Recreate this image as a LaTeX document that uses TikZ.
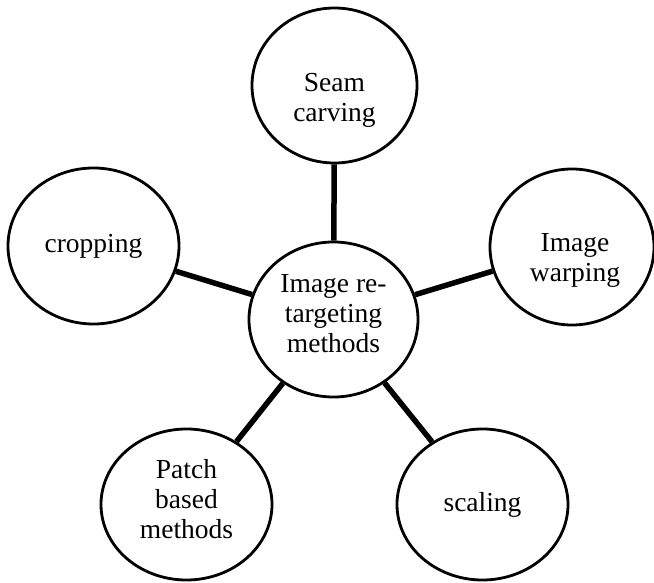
\documentclass[tikz,border=0pt]{standalone}
\usepackage{fontspec}
\setmainfont{Liberation Serif}
\usetikzlibrary{shapes.geometric}
\begin{document}
\begin{tikzpicture}[x=1pt,y=1pt,
  bubble/.style={draw=black, line width=2.8pt, ellipse, inner sep=0pt, fill=white},
  lbl/.style={font=\fontsize{27.5}{30}\selectfont, align=center, inner sep=0pt},
  link/.style={line width=5.5pt}]
\useasboundingbox (0,0) rectangle (654,582);
\node[bubble, minimum width=169pt, minimum height=155pt] (hub) at (333.5,262.5) {};
\node[bubble, minimum width=165pt, minimum height=155pt] (seam) at (334.5,496.5) {};
\node[bubble, minimum width=164pt, minimum height=156pt] (warp) at (572,335) {};
\node[bubble, minimum width=171pt, minimum height=156pt] (crop) at (93.5,336) {};
\node[bubble, minimum width=171pt, minimum height=151pt] (patch) at (186.5,77.5) {};
\node[bubble, minimum width=171pt, minimum height=151pt] (scal) at (482.5,77.5) {};
\draw[link] (hub) -- (seam);
\draw[link] (hub) -- (warp);
\draw[link] (hub) -- (crop);
\draw[link] (hub) -- (patch);
\draw[link] (hub) -- (scal);
\node[lbl] (hubT) at ([yshift=6]hub.center) {Image re-\\targeting\\methods};
\node[lbl] (seamT) at ([yshift=-15]seam.center) {Seam\\carving};
\node[lbl] (warpT) at ([xshift=3,yshift=-13]warp.center) {Image\\warping};
\node[lbl] (cropT) at (crop.center) {cropping};
\node[lbl] (patchT) at ([yshift=5.5]patch.center) {Patch\\based\\methods};
\node[lbl] (scalT) at (scal.center) {scaling};
\end{tikzpicture}
\end{document}
